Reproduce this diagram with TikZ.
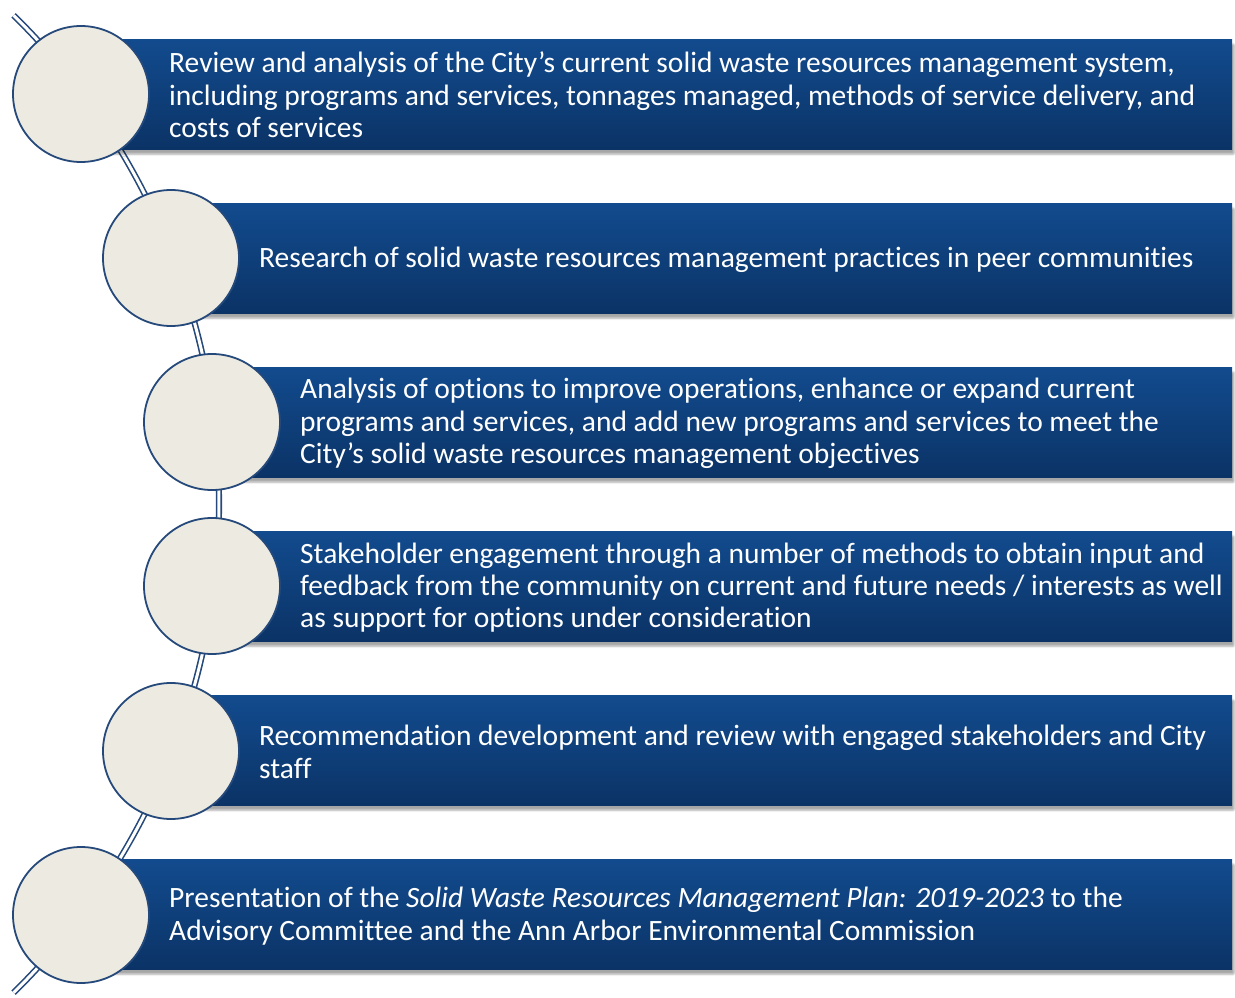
\documentclass[tikz,border=0pt]{standalone}
\usepackage{fontspec}
\setmainfont{Carlito}[Ligatures=NoCommon]
\usetikzlibrary{shadows.blur}
\definecolor{bartop}{HTML}{124B8E}
\definecolor{barbot}{HTML}{0B3366}
\definecolor{circfill}{HTML}{EDEBE1}
\definecolor{circline}{HTML}{25497A}
\tikzset{
  bar/.style={rectangle, anchor=north west, minimum height=110pt, inner sep=0pt,
    top color=bartop, bottom color=barbot, draw=none,
    blur shadow={shadow xshift=2pt, shadow yshift=-5pt, shadow opacity=35, shadow blur steps=6, shadow blur extra rounding=1pt}},
  circ/.style={circle, minimum size=136pt, inner sep=0pt, fill=circfill, draw=circline, line width=1.8pt},
  txt/.style={anchor=west, align=left, text=white, inner sep=0pt,
    font=\fontsize{29.5}{32.3}\selectfont},
  rail/.style={draw=circline, line width=1.6pt, double=white, double distance=3pt}
}
\begin{document}
\begin{tikzpicture}[x=1pt,y=-1pt]
\useasboundingbox (0,0) rectangle (1235,998);
% arc rail
\draw[rail] (-465,504) ++(-45.6:684) arc[start angle=-45.6, end angle=45.6, radius=684];
% bars
\node[bar, minimum width=1151pt] (b1) at (81,39) {};
\node[bar, minimum width=1061pt] (b2) at (171,203) {};
\node[bar, minimum width=1020pt] (b3) at (212,367) {};
\node[bar, minimum width=1020pt] (b4) at (212,531) {};
\node[bar, minimum width=1061pt] (b5) at (171,695) {};
\node[bar, minimum width=1151pt] (b6) at (81,859) {};
% circles
\node[circ] (c1) at (81,94) {};
\node[circ] (c2) at (171,258) {};
\node[circ] (c3) at (212,422) {};
\node[circ] (c4) at (212,586) {};
\node[circ] (c5) at (171,751) {};
\node[circ] (c6) at (81,915) {};
% texts
\node[txt] (t1) at (169,95) {Review and analysis of the City’s current solid waste resources management system,\\including programs and services, tonnages managed, methods of service delivery, and\\costs of services};
\node[txt] (t2) at (259,260) {Research of solid waste resources management practices in peer communities};
\node[txt] (t3) at (300,423.5) {Analysis of options to improve operations, enhance or expand current\\programs and services, and add new programs and services to meet the\\City’s solid waste resources management objectives};
\node[txt] (t4) at (300,587.5) {Stakeholder engagement through a number of methods to obtain input and\\feedback from the community on current and future needs / interests as well\\as support for options under consideration};
\node[txt] (t5) at (259,752) {Recommendation development and review with engaged stakeholders and City\\staff};
\node[txt] (t6) at (169,916) {Presentation of the \textit{Solid Waste Resources Management Plan: 2019-2023} to the\\Advisory Committee and the Ann Arbor Environmental Commission};
\end{tikzpicture}
\end{document}
